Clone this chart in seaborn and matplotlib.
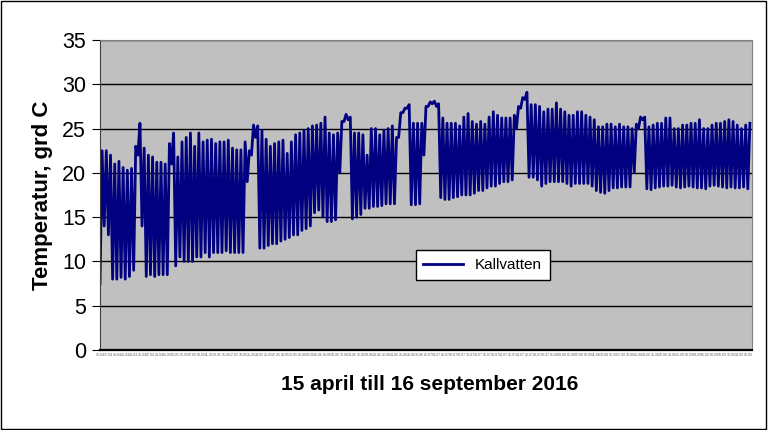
import numpy as np
import pandas as pd
import matplotlib
matplotlib.use("Agg")
import matplotlib.pyplot as plt
import matplotlib.dates as mdates
from matplotlib.patches import Rectangle
import seaborn as sns

# daily low / high readings (cold water), 15 April - 16 September 2016
lows = [7.5, 14, 13, 8, 8, 8.2, 8, 8.3, 9, 22,
        14, 8.3, 8.5, 8.3, 8.5, 8.5, 8.5, 21, 9.5, 10.5,
        10, 10, 10, 10.5, 10.5, 11, 10.5, 11, 11, 11,
        11.2, 11, 11, 11, 11, 19, 22, 24, 11.5, 11.5,
        11.8, 12, 12, 12.3, 12.5, 12.7, 13, 13, 13.5, 13.7,
        14, 15.5, 15.8, 15, 14.5, 14.5, 14.7, 20, 25.8, 26,
        14.8, 15, 15.3, 16, 16, 16.2, 16.2, 16.3, 16.5, 16.5,
        16.5, 24, 26.8, 27.3, 16.4, 16.4, 16.5, 22, 27.5, 27.8,
        27.5, 17.2, 17, 17, 17.2, 17.3, 17.5, 17.5, 17.5, 17.7,
        18, 18, 18.3, 18.5, 18.5, 18.8, 19, 19, 19.2, 25,
        27.3, 28.3, 19.5, 19.5, 19.2, 18.5, 18.8, 19, 19, 19,
        19, 18.8, 18.5, 18.8, 18.8, 18.8, 18.8, 18.5, 18, 17.8,
        17.7, 18, 18.3, 18.3, 18.4, 18.4, 18.4, 20, 25, 26,
        18.2, 18.1, 18.3, 18.4, 18.5, 18.5, 18.6, 18.4, 18.3, 18.4,
        18.5, 18.4, 18.3, 18.3, 18.2, 18.5, 18.6, 18.5, 18.4, 18.3,
        18.4, 18.3, 18.3, 18.4, 18.2]
highs = [22.5, 22.5, 22, 21, 21.3, 20.6, 20.3, 20.5, 23, 25.6,
         22.8, 22, 21.8, 21.2, 21.2, 21, 23.3, 24.5, 21.8, 23.5,
         24, 24.5, 23, 24.5, 23.5, 23.7, 23.8, 23.3, 23.5, 23.5,
         23.7, 22.8, 22.6, 22.6, 23.5, 22.5, 25.4, 25.3, 24.8, 23.8,
         23, 23.3, 23.5, 23.7, 22.2, 23.5, 24.3, 24.5, 24.8, 25,
         25.3, 25.4, 25.6, 26.3, 24.5, 24.3, 24.5, 25.8, 26.6, 26.3,
         24.5, 24.5, 24.3, 22, 25, 25, 24.3, 24.8, 25, 25.3,
         24, 26.8, 27.3, 27.7, 25.6, 25.6, 25.6, 27.5, 28, 28.1,
         27.8, 26.2, 25.6, 25.6, 25.6, 25.3, 26.3, 26.7, 25.8, 25.5,
         25.8, 25.5, 26.3, 26.9, 26.5, 26.2, 26.2, 26.2, 26.5, 27.5,
         28.5, 29.1, 27.7, 27.7, 27.5, 26.9, 27.2, 27.2, 27.9, 27.2,
         26.9, 26.5, 26.5, 26.9, 26.9, 26.5, 26.3, 26, 25.2, 25.2,
         25.5, 25.5, 25.2, 25.5, 25.2, 25.2, 25, 25.5, 26.3, 26.3,
         25.2, 25.4, 25.6, 25.6, 26.2, 26.2, 25, 25, 25.4, 25.4,
         25.6, 25.6, 26, 25, 25, 25.4, 25.6, 25.6, 25.8, 26,
         25.8, 25.4, 25, 25.4, 25.6]

series_name = "Kallvatten"
start_date = "2016-04-15"

temps = np.column_stack([lows, highs]).ravel()
times = pd.date_range(start_date, periods=len(temps), freq="12h")
df = pd.DataFrame({"tid": times, "temp": temps})

plt.rcParams["font.family"] = ["Liberation Sans", "DejaVu Sans"]

fig = plt.figure(figsize=(7.68, 4.30), dpi=100)
fig.subplots_adjust(left=100/768, right=752/768, bottom=80/430, top=390/430)
ax = fig.add_subplot(111)
ax.set_facecolor("#C0C0C0")

sns.lineplot(data=df, x="tid", y="temp", ax=ax, color="#000080",
             linewidth=2.0, label=series_name)

ax.set_ylim(0, 35)
ax.set_yticks(range(0, 36, 5))
ax.set_xlim(times[0], times[-1] + pd.Timedelta(hours=12))
ax.grid(axis="y", color="black", linewidth=1)
ax.grid(axis="x", visible=False)
ax.set_axisbelow(True)

ax.xaxis.set_major_locator(mdates.DayLocator(interval=2))
ax.xaxis.set_major_formatter(mdates.DateFormatter("%d-%m"))
ax.tick_params(axis="x", length=0, labelsize=2.5, labelcolor="#606060", pad=2)
ax.tick_params(axis="y", length=6, labelsize=15.5, color="black", pad=4)

for side in ("top", "right"):
    ax.spines[side].set_color("#808080")
ax.spines["left"].set_color("#404040")
ax.spines["bottom"].set_color("black")
ax.spines["bottom"].set_linewidth(1.6)

ax.set_ylabel("Temperatur, grd C", fontsize=16, fontweight="bold")
ax.yaxis.set_label_coords(-0.072, 0.5)
ax.set_xlabel("15 april till 16 september 2016", fontsize=15, fontweight="bold")
ax.xaxis.set_label_coords(0.505, -0.082)

leg = ax.legend(loc="center", bbox_to_anchor=(0.587, 0.274), fontsize=11,
                frameon=True, fancybox=False, framealpha=1, edgecolor="black",
                handlelength=2.6, borderpad=0.5)
leg.get_frame().set_linewidth(1)

fig.patches.append(Rectangle((0.001, 0.002), 0.997, 0.996, transform=fig.transFigure,
                             fill=False, edgecolor="black", linewidth=1))

fig.savefig("out.png", dpi=100, facecolor="white")
